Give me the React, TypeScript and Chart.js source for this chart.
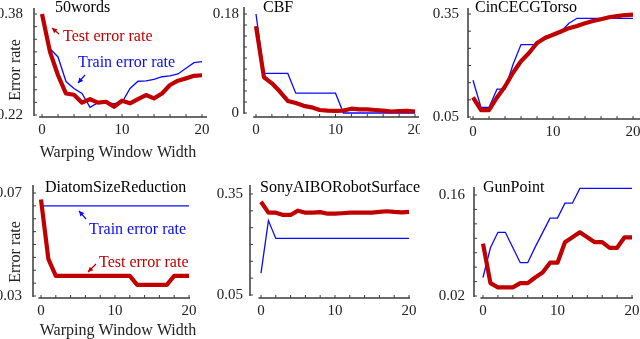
import React, { useEffect, useRef } from 'react';
import { Chart, registerables } from 'chart.js';

Chart.register(...registerables);

// ---------- data ----------
const windowWidths = [0, 1, 2, 3, 4, 5, 6, 7, 8, 9, 10, 11, 12, 13, 14, 15, 16, 17, 18, 19, 20];
const xTickMarks = [0, 2, 4, 6, 8, 10, 12, 14, 16, 18, 20];
const xTickLabels = [0, 10, 20];

const words50Test = [0.380, 0.320, 0.283, 0.254, 0.252, 0.2395, 0.245, 0.2395, 0.241, 0.233, 0.2426, 0.2385, 0.245, 0.2516, 0.2464, 0.254, 0.2675, 0.2743, 0.278, 0.282, 0.283];
const words50Train = [null, 0.325, 0.312, 0.273, 0.262, 0.254, 0.232, 0.2395, 0.2395, 0.238, 0.2395, 0.262, 0.2735, 0.274, 0.2765, 0.2806, 0.282, 0.285, 0.294, 0.303, 0.3045];
const words50YTicks = [0.22, 0.24, 0.26, 0.28, 0.30, 0.32, 0.34, 0.36, 0.38];
const words50YLabels = ['0.22', '0.38'];

const cbfTest = [0.158, 0.065, 0.054, 0.039, 0.022, 0.018, 0.013, 0.0103, 0.0055, 0.0044, 0.004, 0.0044, 0.0078, 0.0067, 0.0067, 0.0055, 0.0044, 0.0027, 0.0033, 0.004, 0.0027];
const cbfTrain = [0.18, 0.072, 0.072, 0.072, 0.072, 0.036, 0.036, 0.036, 0.036, 0.036, 0.036, 0, 0, 0, 0, 0, 0, 0, 0, 0, 0];
const cbfYTicks = [0, 0.02, 0.04, 0.06, 0.08, 0.10, 0.12, 0.14, 0.16, 0.18];
const cbfYLabels = ['0', '0.18'];

const cincTest = [0.107, 0.07, 0.07, 0.107, 0.139, 0.179, 0.2125, 0.2365, 0.2655, 0.28, 0.2895, 0.299, 0.3087, 0.315, 0.323, 0.3298, 0.3346, 0.3404, 0.344, 0.347, 0.348];
const cincTrain = [0.157, 0.078, 0.078, 0.131, 0.131, 0.203, 0.261, 0.261, 0.261, 0.285, 0.287, 0.299, 0.323, 0.3375, 0.3375, 0.3375, 0.3375, 0.3375, 0.3375, 0.3375, 0.3375];
const cincYTicks = [0.05, 0.10, 0.15, 0.20, 0.25, 0.30, 0.35];
const cincYLabels = ['0.05', '0.35'];

const diatomTest = [0.0675, 0.0443, 0.0378, 0.0378, 0.0378, 0.0378, 0.0378, 0.0378, 0.0378, 0.0378, 0.0378, 0.0378, 0.0378, 0.0343, 0.0343, 0.0343, 0.0343, 0.0343, 0.0378, 0.0378, 0.0378];
const diatomTrain = [0.065, 0.065, 0.065, 0.065, 0.065, 0.065, 0.065, 0.065, 0.065, 0.065, 0.065, 0.065, 0.065, 0.065, 0.065, 0.065, 0.065, 0.065, 0.065, 0.065, 0.065];
const diatomYTicks = [0.03, 0.035, 0.04, 0.045, 0.05, 0.055, 0.06, 0.065, 0.07];
const diatomYLabels = ['0.03', '0.07'];

const sonyTest = [0.327, 0.2945, 0.2945, 0.2877, 0.2877, 0.3005, 0.2945, 0.2945, 0.296, 0.2915, 0.2915, 0.2928, 0.2945, 0.2945, 0.2945, 0.2945, 0.2967, 0.2988, 0.2967, 0.2955, 0.2967];
const sonyTrain = [0.115, 0.271, 0.218, 0.218, 0.218, 0.218, 0.218, 0.218, 0.218, 0.218, 0.218, 0.218, 0.218, 0.218, 0.218, 0.218, 0.218, 0.218, 0.218, 0.218, 0.218];
const sonyYTicks = [0.05, 0.10, 0.15, 0.20, 0.25, 0.30, 0.35];
const sonyYLabels = ['0.05', '0.35'];

const gunTest = [0.0927, 0.0378, 0.032, 0.032, 0.032, 0.0378, 0.0378, 0.0457, 0.0525, 0.0662, 0.0662, 0.0946, 0.1014, 0.1083, 0.1014, 0.0946, 0.0946, 0.0868, 0.0868, 0.1014, 0.1014];
const gunTrain = [0.0456, 0.0868, 0.1083, 0.1083, 0.0873, 0.0662, 0.0662, 0.0877, 0.1078, 0.128, 0.128, 0.1486, 0.1486, 0.1692, 0.1692, 0.1692, 0.1692, 0.1692, 0.1692, 0.1692, 0.1692];
const gunYTicks = [0.02, 0.04, 0.06, 0.08, 0.10, 0.12, 0.14, 0.16];
const gunYLabels = ['0.02', '0.16'];

// ---------- styles ----------
const RED = '#c00000';
const BLUE = '#0a0aff';
const AXIS = '#3a3a3a';
const TEXT = '#222222';
const SERIF = "'Liberation Serif', 'Times New Roman', serif";

type Txt = { text: string; x: number; y: number; color?: string; size?: number; align?: CanvasTextAlign; rotate?: boolean };
type Arrow = { x1: number; y1: number; x2: number; y2: number; color: string };

type Panel = {
  title: string;
  test: (number | null)[];
  train: (number | null)[];
  yTicks: number[];
  yLabels: string[];
  yPad: number;
  canvas: { x: number; y: number; w: number; h: number };
  area: { l: number; r: number; t: number; b: number };
  xAnchor: [number, number, number, number]; // v1, px1, v2, px2
  yAnchor: [number, number, number, number];
  titlePos: { x: number; y: number };
  texts: Txt[];
  arrows: Arrow[];
};

const panels: Panel[] = [
  {
    title: '50words', test: words50Test, train: words50Train, yTicks: words50YTicks, yLabels: words50YLabels, yPad: 11,
    canvas: { x: 0, y: 0, w: 210, h: 170 }, area: { l: 34, r: 207, t: 8, b: 117 },
    xAnchor: [0, 42, 20, 202], yAnchor: [0.38, 14, 0.22, 115], titlePos: { x: 55, y: 12 },
    texts: [
      { text: 'Error rate', x: 16, y: 70, rotate: true },
      { text: 'Warping Window Width', x: 118, y: 157, align: 'center' },
      { text: 'Test error rate', x: 63, y: 41, color: RED },
      { text: 'Train error rate', x: 78, y: 67, color: BLUE },
    ],
    arrows: [
      { x1: 59, y1: 34, x2: 52, y2: 28, color: RED },
      { x1: 85, y1: 75, x2: 78, y2: 83, color: BLUE },
    ],
  },
  {
    title: 'CBF', test: cbfTest, train: cbfTrain, yTicks: cbfYTicks, yLabels: cbfYLabels, yPad: 5,
    canvas: { x: 210, y: 0, w: 210, h: 170 }, area: { l: 244, r: 419, t: 7, b: 117 },
    xAnchor: [0, 256, 20, 415], yAnchor: [0.18, 14, 0, 113], titlePos: { x: 263, y: 12 },
    texts: [], arrows: [],
  },
  {
    title: 'CinCECGTorso', test: cincTest, train: cincTrain, yTicks: cincYTicks, yLabels: cincYLabels, yPad: 9,
    canvas: { x: 420, y: 0, w: 240, h: 170 }, area: { l: 468, r: 640, t: 8, b: 119 },
    xAnchor: [0, 473, 20, 633], yAnchor: [0.35, 14, 0.05, 117], titlePos: { x: 475, y: 12 },
    texts: [], arrows: [],
  },
  {
    title: 'DiatomSizeReduction', test: diatomTest, train: diatomTrain, yTicks: diatomYTicks, yLabels: diatomYLabels, yPad: 11,
    canvas: { x: 0, y: 170, w: 210, h: 169 }, area: { l: 33, r: 190, t: 185, b: 298 },
    xAnchor: [0, 41, 20, 189], yAnchor: [0.07, 193, 0.03, 296], titlePos: { x: 45, y: 192 },
    texts: [
      { text: 'Error rate', x: 16, y: 252, rotate: true },
      { text: 'Warping Window Width', x: 118, y: 335, align: 'center' },
      { text: 'Train error rate', x: 89, y: 234, color: BLUE },
      { text: 'Test error rate', x: 99, y: 267, color: RED },
    ],
    arrows: [
      { x1: 86, y1: 219, x2: 79, y2: 211, color: BLUE },
      { x1: 96, y1: 264, x2: 88, y2: 272, color: RED },
    ],
  },
  {
    title: 'SonyAIBORobotSurface', test: sonyTest, train: sonyTrain, yTicks: sonyYTicks, yLabels: sonyYLabels, yPad: 7,
    canvas: { x: 210, y: 170, w: 210, h: 169 }, area: { l: 250, r: 410, t: 185, b: 298 },
    xAnchor: [0, 261, 20, 409], yAnchor: [0.35, 194, 0.05, 295], titlePos: { x: 260, y: 192 },
    texts: [], arrows: [],
  },
  {
    title: 'GunPoint', test: gunTest, train: gunTrain, yTicks: gunYTicks, yLabels: gunYLabels, yPad: 9,
    canvas: { x: 420, y: 170, w: 240, h: 169 }, area: { l: 474, r: 633, t: 187, b: 298 },
    xAnchor: [0, 483, 20, 632], yAnchor: [0.16, 195, 0.02, 296], titlePos: { x: 483, y: 192 },
    texts: [], arrows: [],
  },
];

function valAt(anchor: [number, number, number, number], px: number) {
  const [v1, p1, v2, p2] = anchor;
  return v1 + ((px - p1) * (v2 - v1)) / (p2 - p1);
}

const decorPlugin = {
  id: 'decor',
  afterDraw(chart: any, _args: any, opts: any) {
    const { ctx, chartArea } = chart;
    const x = chart.scales.x;
    const y = chart.scales.y;
    const ox = opts.ox, oy = opts.oy;
    ctx.save();
    ctx.strokeStyle = AXIS;
    ctx.lineWidth = 1.5;
    const seg = (a: number, b: number, c: number, d: number) => {
      ctx.beginPath();
      ctx.moveTo(a, b);
      ctx.lineTo(c, d);
      ctx.stroke();
    };
    // y axis
    const yl = chartArea.left;
    const yEnd = y.getPixelForValue(opts.yLow) + 1;
    seg(yl, chartArea.top, yl, yEnd);
    ctx.lineWidth = 1;
    for (const t of y.ticks) {
      const p = y.getPixelForValue(t.value);
      seg(yl, p, yl + 3, p);
    }
    // x axis
    ctx.lineWidth = 1.5;
    const xb = chartArea.bottom;
    seg(x.getPixelForValue(-0.35), xb, chartArea.right, xb);
    ctx.lineWidth = 1;
    for (const t of x.ticks) {
      const p = x.getPixelForValue(t.value);
      seg(p, xb, p, xb - 3);
    }
    // title
    ctx.fillStyle = '#000';
    ctx.font = `16px ${SERIF}`;
    ctx.textAlign = 'left';
    ctx.textBaseline = 'alphabetic';
    ctx.fillText(opts.title, opts.titlePos.x - ox, opts.titlePos.y - oy);
    // texts
    for (const t of opts.texts as Txt[]) {
      ctx.save();
      ctx.fillStyle = t.color || TEXT;
      ctx.font = `${t.size || 16}px ${SERIF}`;
      if (t.rotate) {
        ctx.translate(t.x - ox, t.y - oy);
        ctx.rotate(-Math.PI / 2);
        ctx.textAlign = 'center';
        ctx.textBaseline = 'middle';
        ctx.fillText(t.text, 0, 0);
      } else {
        ctx.textAlign = t.align || 'left';
        ctx.textBaseline = 'alphabetic';
        ctx.fillText(t.text, t.x - ox, t.y - oy);
      }
      ctx.restore();
    }
    // arrows
    for (const a of opts.arrows as Arrow[]) {
      const x1 = a.x1 - ox, y1 = a.y1 - oy, x2 = a.x2 - ox, y2 = a.y2 - oy;
      ctx.strokeStyle = a.color;
      ctx.fillStyle = a.color;
      ctx.lineWidth = 1.2;
      seg(x1, y1, x2, y2);
      const ang = Math.atan2(y2 - y1, x2 - x1);
      const hl = 5, hw = 2.6;
      ctx.beginPath();
      ctx.moveTo(x2, y2);
      ctx.lineTo(x2 - hl * Math.cos(ang) + hw * Math.sin(ang), y2 - hl * Math.sin(ang) - hw * Math.cos(ang));
      ctx.lineTo(x2 - hl * Math.cos(ang) - hw * Math.sin(ang), y2 - hl * Math.sin(ang) + hw * Math.cos(ang));
      ctx.closePath();
      ctx.fill();
    }
    ctx.restore();
  },
};

function PanelChart({ p }: { p: Panel }) {
  const ref = useRef<HTMLCanvasElement | null>(null);
  useEffect(() => {
    if (!ref.current) return;
    const c = p.canvas;
    const xmin = valAt(p.xAnchor, p.area.l);
    const xmax = valAt(p.xAnchor, p.area.r);
    const ymin = valAt(p.yAnchor, p.area.b);
    const ymax = valAt(p.yAnchor, p.area.t);
    const yLabelVals = [p.yAnchor[2], p.yAnchor[0]];
    const yWidth = p.area.l - c.x;
    const xHeight = c.y + c.h - p.area.b;
    const fixFit = (s: any, horiz: boolean) => {
      if (horiz) s.height = xHeight; else s.width = yWidth;
      s.paddingTop = 0; s.paddingBottom = 0; s.paddingLeft = 0; s.paddingRight = 0;
    };
    const chart = new Chart(ref.current, {
      type: 'line',
      data: {
        labels: windowWidths,
        datasets: [
          { label: 'Test error rate', data: windowWidths.map((w, i) => ({ x: w, y: p.test[i] })), borderColor: RED, borderWidth: 4.2, pointRadius: 0, borderJoinStyle: 'round', tension: 0, fill: false },
          { label: 'Train error rate', data: windowWidths.map((w, i) => ({ x: w, y: p.train[i] })), borderColor: BLUE, borderWidth: 1.3, pointRadius: 0, tension: 0, fill: false },
        ],
      } as any,
      plugins: [decorPlugin as any],
      options: {
        animation: false,
        responsive: false,
        devicePixelRatio: 1,
        layout: { padding: { left: 0, right: c.x + c.w - p.area.r, top: p.area.t - c.y, bottom: 0 } },
        plugins: {
          legend: { display: false },
          tooltip: { enabled: false },
          decor: { ox: c.x, oy: c.y, yLow: p.yAnchor[2], title: p.title, titlePos: p.titlePos, texts: p.texts, arrows: p.arrows },
        } as any,
        scales: {
          x: {
            type: 'linear', min: xmin, max: xmax,
            grid: { display: false, drawTicks: false },
            border: { display: false },
            afterBuildTicks: (s: any) => { s.ticks = xTickMarks.map((v) => ({ value: v })); },
            afterFit: (s: any) => fixFit(s, true),
            ticks: {
              autoSkip: false, maxRotation: 0, minRotation: 0, padding: 4, color: TEXT,
              font: { family: SERIF, size: 15 },
              callback: (v: any) => (xTickLabels.includes(Number(v)) ? String(v) : ''),
            },
          },
          y: {
            type: 'linear', min: ymin, max: ymax,
            grid: { display: false, drawTicks: false },
            border: { display: false },
            afterBuildTicks: (s: any) => { s.ticks = p.yTicks.map((v) => ({ value: v })); },
            afterFit: (s: any) => fixFit(s, false),
            ticks: {
              autoSkip: false, padding: p.yPad, color: TEXT,
              font: { family: SERIF, size: 15 },
              callback: (v: any) => {
                const n = Number(v);
                const idx = yLabelVals.findIndex((q) => Math.abs(q - n) < 1e-9);
                return idx === 0 ? p.yLabels[0] : idx === 1 ? p.yLabels[1] : '';
              },
            },
          },
        },
      } as any,
    });
    return () => chart.destroy();
  }, [p]);
  const c = p.canvas;
  return (
    <canvas
      ref={ref}
      width={c.w}
      height={c.h}
      style={{ position: 'absolute', left: c.x, top: c.y, width: c.w, height: c.h }}
    />
  );
}

export default function App() {
  return (
    <div style={{ position: 'fixed', left: 0, top: 0, width: 640, height: 339, overflow: 'hidden', background: '#fff' }}>
      {panels.map((p) => (
        <PanelChart key={p.title} p={p} />
      ))}
    </div>
  );
}
